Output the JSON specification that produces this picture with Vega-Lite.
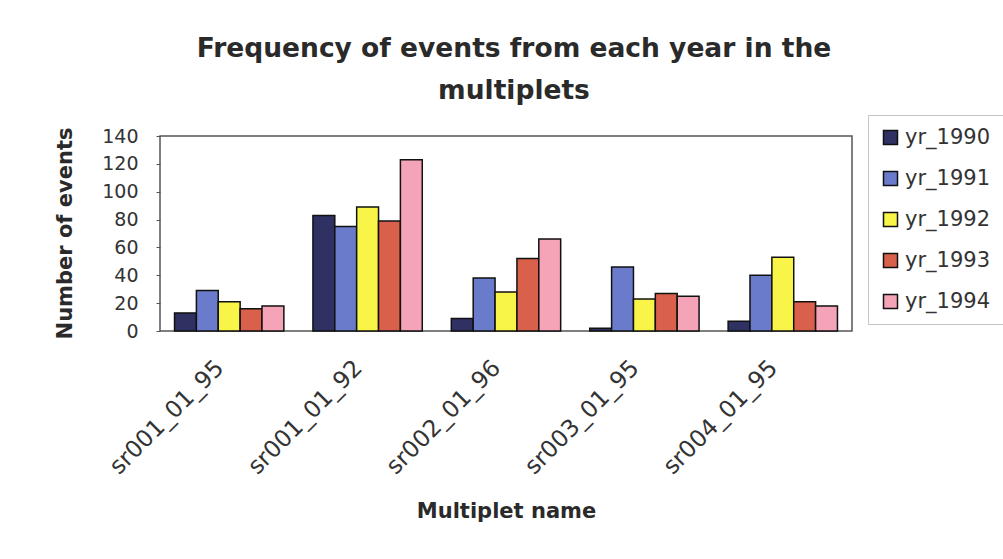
{
  "$schema": "https://vega.github.io/schema/vega-lite/v6.json",
  "autosize": {"type": "none"},
  "padding": {"left": 160, "top": 136, "right": 151, "bottom": 228},
  "width": 692,
  "height": 195,
  "background": "white",
  "title": {
    "text": ["Frequency of events from each year in the", "multiplets"],
    "font": "DejaVu Sans",
    "fontSize": 26.5,
    "fontWeight": "bold",
    "color": "#2a2a2a",
    "lineHeight": 42,
    "offset": 10,
    "dx": 8,
    "anchor": "middle"
  },
  "data": {
    "values": [
      {"multiplet": "sr001_01_95", "year": "yr_1990", "events": 13},
      {"multiplet": "sr001_01_95", "year": "yr_1991", "events": 29},
      {"multiplet": "sr001_01_95", "year": "yr_1992", "events": 21},
      {"multiplet": "sr001_01_95", "year": "yr_1993", "events": 16},
      {"multiplet": "sr001_01_95", "year": "yr_1994", "events": 18},
      {"multiplet": "sr001_01_92", "year": "yr_1990", "events": 83},
      {"multiplet": "sr001_01_92", "year": "yr_1991", "events": 75},
      {"multiplet": "sr001_01_92", "year": "yr_1992", "events": 89},
      {"multiplet": "sr001_01_92", "year": "yr_1993", "events": 79},
      {"multiplet": "sr001_01_92", "year": "yr_1994", "events": 123},
      {"multiplet": "sr002_01_96", "year": "yr_1990", "events": 9},
      {"multiplet": "sr002_01_96", "year": "yr_1991", "events": 38},
      {"multiplet": "sr002_01_96", "year": "yr_1992", "events": 28},
      {"multiplet": "sr002_01_96", "year": "yr_1993", "events": 52},
      {"multiplet": "sr002_01_96", "year": "yr_1994", "events": 66},
      {"multiplet": "sr003_01_95", "year": "yr_1990", "events": 2},
      {"multiplet": "sr003_01_95", "year": "yr_1991", "events": 46},
      {"multiplet": "sr003_01_95", "year": "yr_1992", "events": 23},
      {"multiplet": "sr003_01_95", "year": "yr_1993", "events": 27},
      {"multiplet": "sr003_01_95", "year": "yr_1994", "events": 25},
      {"multiplet": "sr004_01_95", "year": "yr_1990", "events": 7},
      {"multiplet": "sr004_01_95", "year": "yr_1991", "events": 40},
      {"multiplet": "sr004_01_95", "year": "yr_1992", "events": 53},
      {"multiplet": "sr004_01_95", "year": "yr_1993", "events": 21},
      {"multiplet": "sr004_01_95", "year": "yr_1994", "events": 18}
    ]
  },
  "mark": {"type": "bar", "stroke": "#111111", "strokeWidth": 1.5},
  "encoding": {
    "x": {
      "field": "multiplet",
      "type": "nominal",
      "sort": null,
      "scale": {"paddingInner": 0.21, "paddingOuter": 0.105},
      "axis": {
        "title": "Multiplet name",
        "titleFont": "DejaVu Sans",
        "titleFontSize": 21,
        "titleFontWeight": "bold",
        "titleColor": "#2a2a2a",
        "titlePadding": 22,
        "labelAngle": -45,
        "labelAlign": "right",
        "labelBaseline": "middle",
        "labelFont": "DejaVu Sans",
        "labelFontSize": 23.5,
        "labelColor": "#333333",
        "labelPadding": 33,
        "labelOffset": -9,
        "ticks": false,
        "domain": false
      }
    },
    "xOffset": {"field": "year", "type": "nominal", "scale": {"paddingInner": 0, "paddingOuter": 0}},
    "y": {
      "field": "events",
      "type": "quantitative",
      "scale": {"domain": [0, 140], "nice": false},
      "axis": {
        "title": "Number of events",
        "titleFont": "DejaVu Sans",
        "titleFontSize": 21,
        "titleFontWeight": "bold",
        "titleColor": "#2a2a2a",
        "titleBaseline": "middle",
        "titleX": -95,
        "titleY": 97,
        "values": [0, 20, 40, 60, 80, 100, 120, 140],
        "labelFont": "DejaVu Sans",
        "labelFontSize": 19,
        "labelColor": "#333333",
        "labelPadding": 18,
        "tickSize": 4,
        "tickColor": "#555555",
        "grid": false,
        "domain": false
      }
    },
    "color": {
      "field": "year",
      "type": "nominal",
      "scale": {
        "domain": ["yr_1990", "yr_1991", "yr_1992", "yr_1993", "yr_1994"],
        "range": ["#2F3163", "#6B7BCB", "#F8F548", "#D9604A", "#F5A3B7"]
      },
      "legend": {
        "title": null,
        "orient": "none",
        "legendX": 708,
        "legendY": -21,
        "padding": 12,
        "strokeColor": "#c4c4c4",
        "symbolType": "square",
        "symbolSize": 196,
        "symbolStrokeColor": "#111111",
        "symbolStrokeWidth": 1.5,
        "symbolOpacity": 1,
        "labelFont": "DejaVu Sans",
        "labelFontSize": 21,
        "labelColor": "#333333",
        "labelOffset": 4,
        "rowPadding": 19
      }
    }
  },
  "config": {
    "view": {"stroke": "#555555", "strokeWidth": 1.5}
  }
}
